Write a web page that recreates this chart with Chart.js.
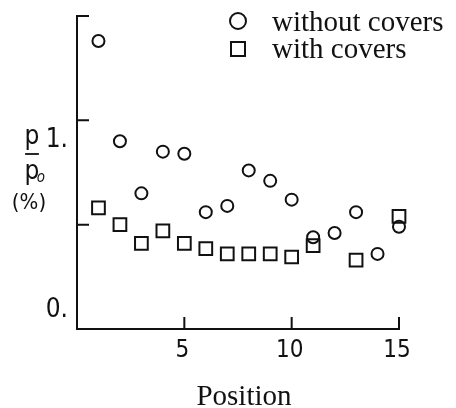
<!DOCTYPE html>
<html><head><meta charset="utf-8">
<script src="https://cdn.jsdelivr.net/npm/chart.js@4"></script>
<style>html,body{margin:0;padding:0;background:#fff}#wrap{width:456px;height:408px}</style>
</head><body><div id="wrap"><canvas id="c" width="456" height="408"></canvas></div>
<script>
const positions = [1,2,3,4,5,6,7,8,9,10,11,12,13,14,15];
const withoutCovers = [1.38,0.90,0.65,0.85,0.84,0.56,0.59,0.76,0.71,0.62,0.44,0.46,0.56,0.36,0.49];
const withCovers   = [0.58,0.50,0.41,0.47,0.41,0.385,0.36,0.36,0.36,0.345,0.40,null,0.33,null,0.54];
const seriesLabels = ["without covers","with covers"];
const xTicks = [5,10,15];
const xTickLabels = ["5","10","15"];
const yTicks = [0.5,1.0,1.5];
const yLabelValues = [0,1];
const yLabelTexts = ["0.","1."];
const xTitle = "Position";

const pts = vals => positions.map((p,i)=>({x:p,y:vals[i]})).filter(d=>d.y!==null);
const NARROW = '"Liberation Sans Narrow","DejaVu Sans Condensed","Liberation Sans",sans-serif';
const SERIF = '"Liberation Serif","DejaVu Serif",serif';

const axesPlugin = {
  id:'axesPlugin',
  beforeDatasetsDraw(chart){
    const ctx = chart.ctx, xs = chart.scales.x, ys = chart.scales.y;
    const L = xs.getPixelForValue(xs.min), R = xs.getPixelForValue(xs.max);
    const B = ys.getPixelForValue(0), T = ys.getPixelForValue(ys.max);
    ctx.save();
    ctx.strokeStyle = '#111'; ctx.lineWidth = 2; ctx.lineCap='square';
    ctx.beginPath();
    ctx.moveTo(L,T); ctx.lineTo(L,B); ctx.lineTo(R,B);
    yTicks.forEach(v=>{const y=ys.getPixelForValue(v); ctx.moveTo(L,y); ctx.lineTo(L+11,y);});
    xTicks.forEach(v=>{const x=xs.getPixelForValue(v); ctx.moveTo(x,B); ctx.lineTo(x,B-11);});
    ctx.stroke();
    ctx.fillStyle='#111';
    ctx.font = '24px '+NARROW;
    ctx.textAlign='center'; ctx.textBaseline='middle';
    xTicks.forEach((v,i)=>{ctx.fillText(xTickLabels[i], xs.getPixelForValue(v)-2, B+22);});
    ctx.textAlign='right';
    ctx.font = '26px '+NARROW;
    yLabelValues.forEach((v,i)=>{
      const y = ys.getPixelForValue(v) + (v===0 ? -19 : 20);
      ctx.fillText(yLabelTexts[i], 68, y);
    });
    // y title: p / p0 (%)
    ctx.textAlign='center';
    ctx.font = '26px '+NARROW;
    ctx.fillText('p', 32, 137);
    ctx.beginPath(); ctx.lineWidth=1.8; ctx.moveTo(26,154); ctx.lineTo(38,154); ctx.stroke();
    ctx.fillText('p', 32, 172);
    ctx.font = 'italic 15px '+NARROW;
    ctx.fillText('o', 41, 178);
    ctx.font = '22px '+NARROW;
    ctx.fillText('(%)', 29, 203);
    // x title
    ctx.font = '29px '+SERIF;
    ctx.textBaseline='alphabetic';
    ctx.fillText(xTitle, 244, 405);
    ctx.restore();
  },
  afterDraw(chart){
    const ctx = chart.ctx;
    ctx.save();
    ctx.strokeStyle='#111'; ctx.lineWidth=2; ctx.fillStyle='#111';
    ctx.beginPath(); ctx.arc(238,21,8,0,Math.PI*2); ctx.stroke();
    ctx.beginPath(); ctx.rect(231,42,14,14); ctx.stroke();
    ctx.font='29px '+SERIF; ctx.textAlign='left'; ctx.textBaseline='alphabetic';
    ctx.fillText(seriesLabels[0], 272, 31);
    ctx.fillText(seriesLabels[1], 272, 58);
    ctx.restore();
  }
};

new Chart(document.getElementById('c'), {
  type:'scatter',
  data:{datasets:[
    {label:seriesLabels[0], data:pts(withoutCovers), pointStyle:'circle', pointRadius:6,
     borderColor:'#111', backgroundColor:'rgba(0,0,0,0)', borderWidth:2, clip:false},
    {label:seriesLabels[1], data:pts(withCovers), pointStyle:'rect', pointRadius:9,
     borderColor:'#111', backgroundColor:'rgba(0,0,0,0)', borderWidth:2, clip:false}
  ]},
  options:{
    responsive:false, animation:false, devicePixelRatio:1,
    layout:{padding:{left:77,right:57,top:16,bottom:79}},
    plugins:{legend:{display:false}, tooltip:{enabled:false}},
    scales:{
      x:{type:'linear', min:0, max:15, display:false},
      y:{type:'linear', min:0, max:1.5, display:false}
    }
  },
  plugins:[axesPlugin]
});
</script></body></html>
